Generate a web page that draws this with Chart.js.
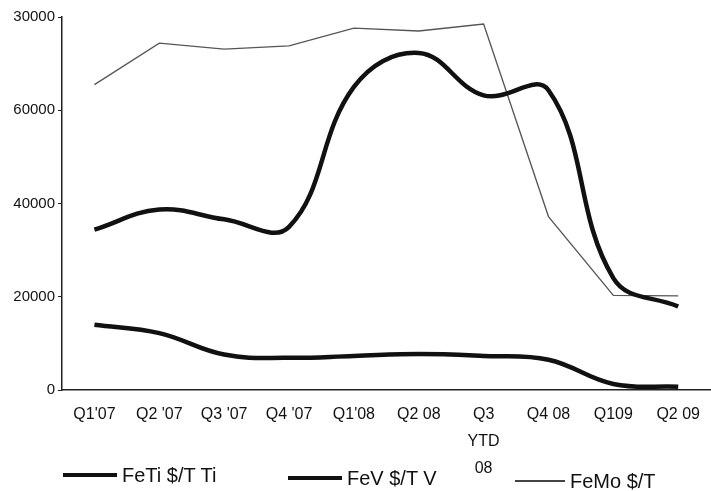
<!DOCTYPE html>
<html>
<head>
<meta charset="utf-8">
<script src="https://cdn.jsdelivr.net/npm/chart.js@4"></script>
<style>
    body { margin: 0; background: #fff; }
    #wrap { position: relative; width: 711px; height: 491px; font-family: "Liberation Sans", Arial, sans-serif; color: #111; }
    .lg { position: absolute; font-size: 20px; line-height: 20px; white-space: nowrap; }
    .sw { position: absolute; background: #111; }
</style>
</head>
<body>
<div id="wrap">
    <canvas id="chart" width="711" height="491"></canvas>
    <div class="sw" style="left:63px; top:473px; width:54px; height:4px;"></div>
    <div class="lg" style="left:122px; top:465px;">FeTi $/T Ti</div>
    <div class="sw" style="left:288px; top:476px; width:54px; height:4px;"></div>
    <div class="lg" style="left:347px; top:468px;">FeV $/T V</div>
    <div class="sw" style="left:515px; top:480px; width:50px; height:1.5px; background:#444;"></div>
    <div class="lg" style="left:570px; top:471px;">FeMo $/T</div>
</div>
<script>
const categories = ["Q1'07", "Q2 '07", "Q3 '07", "Q4 '07", "Q1'08", "Q2 08", ["Q3", "YTD", "08"], "Q4 08", "Q109", "Q2 09"];
const feTi = [14000, 12200, 7600, 6900, 7300, 7700, 7300, 6500, 1300, 700];
const feV = [34400, 38700, 36600, 35000, 65000, 72300, 63200, 64300, 24000, 17900];
const feMo = [65500, 74400, 73100, 73800, 77600, 77000, 78500, 37200, 20300, 20200];
const yTickLabels = ["0", "20000", "40000", "60000", "30000"];

const ctx = document.getElementById("chart").getContext("2d");
new Chart(ctx, {
    type: "line",
    data: {
        labels: categories,
        datasets: [
            {
                label: "FeTi $/T Ti",
                data: feTi,
                borderColor: "#111",
                borderWidth: 4.5,
                tension: 0.4,
                pointRadius: 0,
                fill: false,
            },
            {
                label: "FeV $/T V",
                data: feV,
                borderColor: "#111",
                borderWidth: 4.5,
                tension: 0.4,
                pointRadius: 0,
                fill: false,
            },
            {
                label: "FeMo $/T",
                data: feMo,
                borderColor: "#555",
                borderWidth: 1.3,
                tension: 0,
                pointRadius: 0,
                fill: false,
            },
        ],
    },
    options: {
        responsive: false,
        animation: false,
        layout: { padding: { top: 17, right: 0, bottom: 0, left: 0 } },
        plugins: { legend: { display: false }, tooltip: { enabled: false } },
        scales: {
            x: {
                offset: true,
                grid: { display: true, drawOnChartArea: false, drawTicks: false },
                border: { display: true, color: "#222", width: 1.5 },
                ticks: {
                    color: "#111",
                    padding: 11,
                    maxRotation: 0,
                    autoSkip: false,
                    font: { family: "Liberation Sans", size: 16, lineHeight: 1.7 },
                },
                afterFit: function (scale) {
                    scale.height = 101;
                },
            },
            y: {
                min: 0,
                max: 80000,
                grid: { display: true, drawOnChartArea: false, drawTicks: true, tickLength: 4, color: "#222" },
                border: { display: true, color: "#222", width: 1.5 },
                ticks: {
                    stepSize: 20000,
                    color: "#111",
                    padding: 3,
                    font: { family: "Liberation Sans", size: 15 },
                    callback: function (value) {
                        return yTickLabels[value / 20000];
                    },
                },
                afterFit: function (scale) {
                    scale.width = 62;
                },
            },
        },
    },
});
</script>
</body>
</html>
